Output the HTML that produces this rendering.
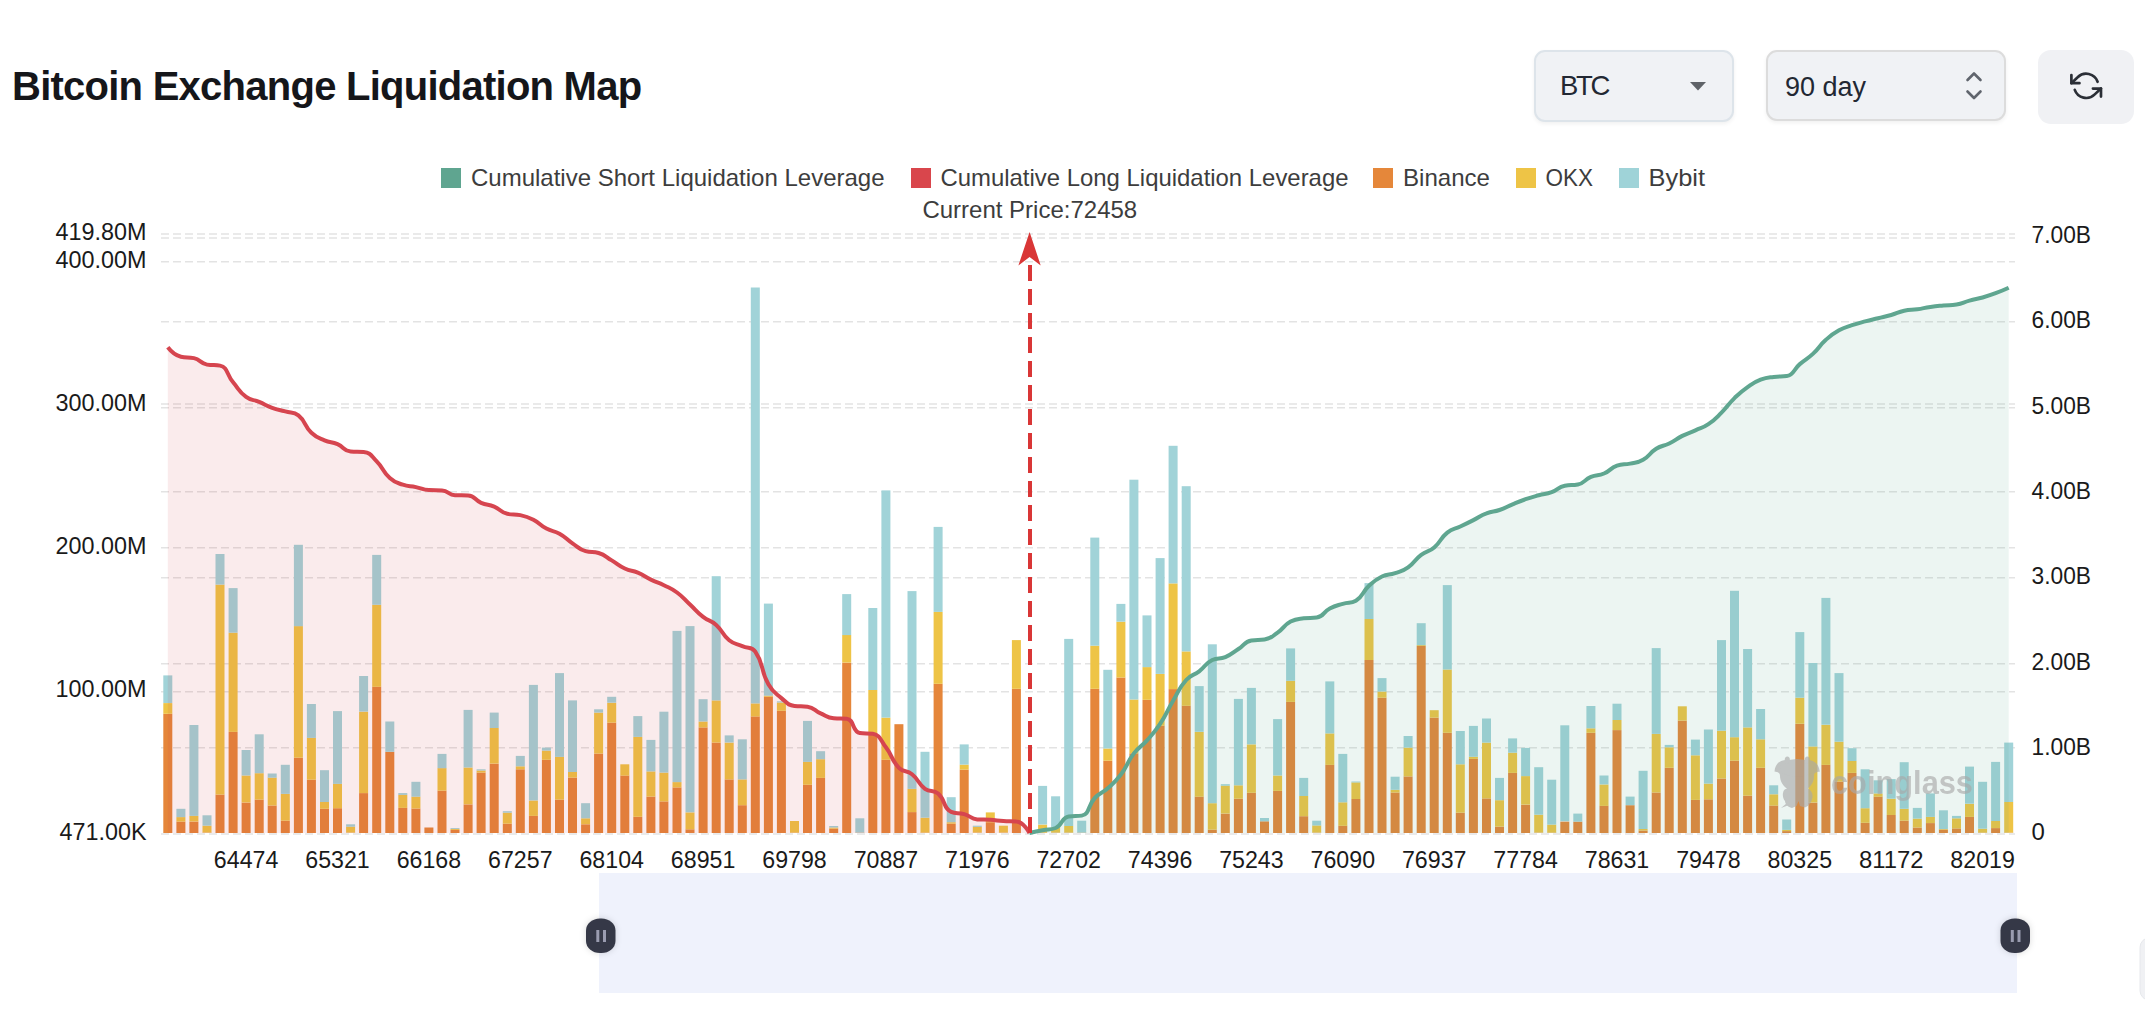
<!DOCTYPE html>
<html><head><meta charset="utf-8"><style>
html,body{margin:0;padding:0;background:#fff;}
body{width:2145px;height:1010px;overflow:hidden;position:relative;font-family:"Liberation Sans",sans-serif;}
.title{position:absolute;left:12px;top:57.7px;font-weight:bold;font-size:40px;line-height:56px;letter-spacing:-0.75px;color:#15161a;white-space:nowrap;}
.box{position:absolute;box-sizing:border-box;background:#f0f2f5;border-radius:11px;}
.sel1{left:1534px;top:50px;width:200px;height:72px;border:2px solid #dde4ea;box-shadow:0 2px 4px rgba(0,0,0,0.06);}
.sel2{left:1766px;top:50px;width:240px;height:71px;border:2px solid #dcdcdc;box-shadow:0 2px 4px rgba(0,0,0,0.06);}
.btn{left:2038px;top:50px;width:96px;height:74px;background:#f0f1f4;border-radius:13px;}
.lbl{position:absolute;font-size:27px;color:#222833;white-space:nowrap;line-height:30px;}
svg{position:absolute;left:0;top:0;}
</style></head><body>
<div class="title">Bitcoin Exchange Liquidation Map</div>
<div class="box sel1"></div>
<div class="lbl" style="left:1560px;top:71px;font-size:27.5px;letter-spacing:-2.3px;">BTC</div>
<div class="box sel2"></div>
<div class="lbl" style="left:1785px;top:72px;">90 day</div>
<div class="box btn"></div>
<svg width="2145" height="1010" viewBox="0 0 2145 1010">
<!-- controls icons -->
<path d="M1690 82 L1706 82 L1698 90.5 Z" fill="#5f6368"/>
<path d="M1967.5 80 L1974 73.5 L1980.5 80" fill="none" stroke="#60656d" stroke-width="2.6" stroke-linecap="round" stroke-linejoin="round"/>
<path d="M1967.5 91.5 L1974 98 L1980.5 91.5" fill="none" stroke="#60656d" stroke-width="2.6" stroke-linecap="round" stroke-linejoin="round"/>
<g fill="none" stroke="#2b2f36" stroke-width="2" stroke-linecap="round" stroke-linejoin="round" transform="translate(2070.05 69.7) scale(1.345)">
<polyline points="1 4 1 10 7 10"/>
<polyline points="23 20 23 14 17 14"/>
<path d="M20.49 9A9 9 0 0 0 5.64 5.64L1 10m22 4l-4.64 4.36A9 9 0 0 1 3.51 15"/>
</g>
<!-- legend -->
<g font-size="24" fill="#3d3d3d">
<rect x="441" y="168" width="20" height="20" fill="#5FA590"/>
<text x="471" y="185.5" textLength="413.5" lengthAdjust="spacingAndGlyphs">Cumulative Short Liquidation Leverage</text>
<rect x="911" y="168" width="20" height="20" fill="#D9464C"/>
<text x="940.5" y="185.5" textLength="408" lengthAdjust="spacingAndGlyphs">Cumulative Long Liquidation Leverage</text>
<rect x="1373" y="168" width="20" height="20" fill="#E5873A"/>
<text x="1403" y="185.5" textLength="87" lengthAdjust="spacingAndGlyphs">Binance</text>
<rect x="1516" y="168" width="20" height="20" fill="#EEC446"/>
<text x="1545.5" y="185.5" textLength="47.5" lengthAdjust="spacingAndGlyphs">OKX</text>
<rect x="1619" y="168" width="20" height="20" fill="#9FD3D8"/>
<text x="1648.5" y="185.5" textLength="56.5" lengthAdjust="spacingAndGlyphs">Bybit</text>
<text x="1029.8" y="218" text-anchor="middle">Current Price:72458</text>
</g>
<!-- grid -->
<g stroke="#e3e3e3" stroke-width="1.5" stroke-dasharray="8 4">
<line x1="161" y1="234" x2="2015" y2="234"/>
<line x1="161" y1="261.8" x2="2015" y2="261.8"/>
<line x1="161" y1="404.1" x2="2015" y2="404.1"/>
<line x1="161" y1="547.8" x2="2015" y2="547.8"/>
<line x1="161" y1="691.8" x2="2015" y2="691.8"/>
<line x1="161" y1="238.1" x2="2015" y2="238.1"/>
<line x1="161" y1="321.8" x2="2015" y2="321.8"/>
<line x1="161" y1="407.8" x2="2015" y2="407.8"/>
<line x1="161" y1="491.7" x2="2015" y2="491.7"/>
<line x1="161" y1="577.8" x2="2015" y2="577.8"/>
<line x1="161" y1="663.8" x2="2015" y2="663.8"/>
<line x1="161" y1="747.8" x2="2015" y2="747.8"/>
<line x1="161" y1="834" x2="2015" y2="834"/>
</g>
<!-- bars -->
<g>
<rect x="163.3" y="713.8" width="9" height="119.2" fill="#E5863A"/>
<rect x="163.3" y="703.1" width="9" height="10.7" fill="#EEC446"/>
<rect x="163.3" y="675.4" width="9" height="27.6" fill="#A1D3D8"/>
<rect x="176.4" y="821.6" width="9" height="11.4" fill="#E5863A"/>
<rect x="176.4" y="817.1" width="9" height="4.5" fill="#EEC446"/>
<rect x="176.4" y="808.8" width="9" height="8.3" fill="#A1D3D8"/>
<rect x="189.4" y="821.6" width="9" height="11.4" fill="#E5863A"/>
<rect x="189.4" y="815.9" width="9" height="5.6" fill="#EEC446"/>
<rect x="189.4" y="725" width="9" height="90.9" fill="#A1D3D8"/>
<rect x="202.5" y="832.6" width="9" height="0.4" fill="#E5863A"/>
<rect x="202.5" y="825.7" width="9" height="6.8" fill="#EEC446"/>
<rect x="202.5" y="815.3" width="9" height="10.4" fill="#A1D3D8"/>
<rect x="215.5" y="794.6" width="9" height="38.4" fill="#E5863A"/>
<rect x="215.5" y="584.6" width="9" height="210" fill="#EEC446"/>
<rect x="215.5" y="554" width="9" height="30.6" fill="#A1D3D8"/>
<rect x="228.6" y="731.9" width="9" height="101.1" fill="#E5863A"/>
<rect x="228.6" y="632.7" width="9" height="99.2" fill="#EEC446"/>
<rect x="228.6" y="588.1" width="9" height="44.6" fill="#A1D3D8"/>
<rect x="241.6" y="802.6" width="9" height="30.4" fill="#E5863A"/>
<rect x="241.6" y="775.5" width="9" height="27" fill="#EEC446"/>
<rect x="241.6" y="750" width="9" height="25.5" fill="#A1D3D8"/>
<rect x="254.7" y="799.6" width="9" height="33.4" fill="#E5863A"/>
<rect x="254.7" y="773.2" width="9" height="26.4" fill="#EEC446"/>
<rect x="254.7" y="734.3" width="9" height="38.9" fill="#A1D3D8"/>
<rect x="267.7" y="805.5" width="9" height="27.5" fill="#E5863A"/>
<rect x="267.7" y="777.6" width="9" height="27.9" fill="#EEC446"/>
<rect x="267.7" y="773.5" width="9" height="4.2" fill="#A1D3D8"/>
<rect x="280.8" y="820.7" width="9" height="12.3" fill="#E5863A"/>
<rect x="280.8" y="794" width="9" height="26.7" fill="#EEC446"/>
<rect x="280.8" y="764.8" width="9" height="29.1" fill="#A1D3D8"/>
<rect x="293.9" y="757.7" width="9" height="75.3" fill="#E5863A"/>
<rect x="293.9" y="626.1" width="9" height="131.6" fill="#EEC446"/>
<rect x="293.9" y="544.8" width="9" height="81.4" fill="#A1D3D8"/>
<rect x="306.9" y="779.7" width="9" height="53.3" fill="#E5863A"/>
<rect x="306.9" y="737.8" width="9" height="41.9" fill="#EEC446"/>
<rect x="306.9" y="704" width="9" height="33.9" fill="#A1D3D8"/>
<rect x="320" y="808.8" width="9" height="24.2" fill="#E5863A"/>
<rect x="320" y="802" width="9" height="6.8" fill="#EEC446"/>
<rect x="320" y="770.2" width="9" height="31.8" fill="#A1D3D8"/>
<rect x="333" y="808.2" width="9" height="24.8" fill="#E5863A"/>
<rect x="333" y="783.9" width="9" height="24.4" fill="#EEC446"/>
<rect x="333" y="711.1" width="9" height="72.8" fill="#A1D3D8"/>
<rect x="346.1" y="832.6" width="9" height="0.4" fill="#E5863A"/>
<rect x="346.1" y="826.6" width="9" height="5.9" fill="#EEC446"/>
<rect x="346.1" y="824.3" width="9" height="2.4" fill="#A1D3D8"/>
<rect x="359.1" y="793.1" width="9" height="39.9" fill="#E5863A"/>
<rect x="359.1" y="711.7" width="9" height="81.4" fill="#EEC446"/>
<rect x="359.1" y="676" width="9" height="35.6" fill="#A1D3D8"/>
<rect x="372.2" y="686.7" width="9" height="146.3" fill="#E5863A"/>
<rect x="372.2" y="604.8" width="9" height="82" fill="#EEC446"/>
<rect x="372.2" y="554.9" width="9" height="49.9" fill="#A1D3D8"/>
<rect x="385.3" y="751.8" width="9" height="81.2" fill="#E5863A"/>
<rect x="385.3" y="721.5" width="9" height="30.3" fill="#A1D3D8"/>
<rect x="398.3" y="807.9" width="9" height="25.1" fill="#E5863A"/>
<rect x="398.3" y="794.8" width="9" height="13.1" fill="#EEC446"/>
<rect x="398.3" y="793.1" width="9" height="1.8" fill="#A1D3D8"/>
<rect x="411.4" y="808.5" width="9" height="24.5" fill="#E5863A"/>
<rect x="411.4" y="796.6" width="9" height="11.9" fill="#EEC446"/>
<rect x="411.4" y="781.8" width="9" height="14.9" fill="#A1D3D8"/>
<rect x="424.4" y="827.5" width="9" height="5.5" fill="#E5863A"/>
<rect x="437.5" y="790.7" width="9" height="42.3" fill="#E5863A"/>
<rect x="437.5" y="768.1" width="9" height="22.6" fill="#EEC446"/>
<rect x="437.5" y="753.9" width="9" height="14.3" fill="#A1D3D8"/>
<rect x="450.5" y="829.9" width="9" height="3.1" fill="#E5863A"/>
<rect x="450.5" y="829" width="9" height="0.9" fill="#EEC446"/>
<rect x="450.5" y="828.1" width="9" height="0.9" fill="#A1D3D8"/>
<rect x="463.6" y="804.4" width="9" height="28.6" fill="#E5863A"/>
<rect x="463.6" y="767.5" width="9" height="36.8" fill="#EEC446"/>
<rect x="463.6" y="709.9" width="9" height="57.6" fill="#A1D3D8"/>
<rect x="476.6" y="772.6" width="9" height="60.4" fill="#E5863A"/>
<rect x="476.6" y="770.5" width="9" height="2.1" fill="#EEC446"/>
<rect x="476.6" y="769.3" width="9" height="1.2" fill="#A1D3D8"/>
<rect x="489.7" y="763.7" width="9" height="69.3" fill="#E5863A"/>
<rect x="489.7" y="728" width="9" height="35.6" fill="#EEC446"/>
<rect x="489.7" y="712.6" width="9" height="15.4" fill="#A1D3D8"/>
<rect x="502.8" y="823.7" width="9" height="9.3" fill="#E5863A"/>
<rect x="502.8" y="812.7" width="9" height="11" fill="#EEC446"/>
<rect x="502.8" y="811.2" width="9" height="1.5" fill="#A1D3D8"/>
<rect x="515.8" y="769.3" width="9" height="63.7" fill="#E5863A"/>
<rect x="515.8" y="766.3" width="9" height="3" fill="#EEC446"/>
<rect x="515.8" y="755.9" width="9" height="10.4" fill="#A1D3D8"/>
<rect x="528.9" y="815.9" width="9" height="17.1" fill="#E5863A"/>
<rect x="528.9" y="800.5" width="9" height="15.4" fill="#EEC446"/>
<rect x="528.9" y="684.9" width="9" height="115.5" fill="#A1D3D8"/>
<rect x="541.9" y="759.8" width="9" height="73.2" fill="#E5863A"/>
<rect x="541.9" y="750.6" width="9" height="9.2" fill="#EEC446"/>
<rect x="541.9" y="747.6" width="9" height="3" fill="#A1D3D8"/>
<rect x="555" y="799.6" width="9" height="33.4" fill="#E5863A"/>
<rect x="555" y="756.8" width="9" height="42.8" fill="#EEC446"/>
<rect x="555" y="673.1" width="9" height="83.8" fill="#A1D3D8"/>
<rect x="568" y="777.6" width="9" height="55.4" fill="#E5863A"/>
<rect x="568" y="772" width="9" height="5.6" fill="#EEC446"/>
<rect x="568" y="700.4" width="9" height="71.6" fill="#A1D3D8"/>
<rect x="581.1" y="824.3" width="9" height="8.7" fill="#E5863A"/>
<rect x="581.1" y="818.3" width="9" height="5.9" fill="#EEC446"/>
<rect x="581.1" y="803.2" width="9" height="15.1" fill="#A1D3D8"/>
<rect x="594.1" y="753.6" width="9" height="79.4" fill="#E5863A"/>
<rect x="594.1" y="712.6" width="9" height="41" fill="#EEC446"/>
<rect x="594.1" y="709.3" width="9" height="3.3" fill="#A1D3D8"/>
<rect x="607.2" y="722.7" width="9" height="110.3" fill="#E5863A"/>
<rect x="607.2" y="702.8" width="9" height="19.9" fill="#EEC446"/>
<rect x="607.2" y="696.8" width="9" height="5.9" fill="#A1D3D8"/>
<rect x="620.3" y="775.5" width="9" height="57.5" fill="#E5863A"/>
<rect x="620.3" y="764.3" width="9" height="11.3" fill="#EEC446"/>
<rect x="633.3" y="816.8" width="9" height="16.2" fill="#E5863A"/>
<rect x="633.3" y="736.9" width="9" height="79.9" fill="#EEC446"/>
<rect x="633.3" y="716.1" width="9" height="20.8" fill="#A1D3D8"/>
<rect x="646.4" y="796.6" width="9" height="36.4" fill="#E5863A"/>
<rect x="646.4" y="771.4" width="9" height="25.2" fill="#EEC446"/>
<rect x="646.4" y="739.9" width="9" height="31.5" fill="#A1D3D8"/>
<rect x="659.4" y="801.4" width="9" height="31.6" fill="#E5863A"/>
<rect x="659.4" y="772.6" width="9" height="28.8" fill="#EEC446"/>
<rect x="659.4" y="711.7" width="9" height="60.9" fill="#A1D3D8"/>
<rect x="672.5" y="787.4" width="9" height="45.6" fill="#E5863A"/>
<rect x="672.5" y="782.1" width="9" height="5.3" fill="#EEC446"/>
<rect x="672.5" y="630.9" width="9" height="151.2" fill="#A1D3D8"/>
<rect x="685.5" y="829.3" width="9" height="3.7" fill="#E5863A"/>
<rect x="685.5" y="812.4" width="9" height="16.9" fill="#EEC446"/>
<rect x="685.5" y="626.1" width="9" height="186.2" fill="#A1D3D8"/>
<rect x="698.6" y="727.4" width="9" height="105.6" fill="#E5863A"/>
<rect x="698.6" y="721.5" width="9" height="5.9" fill="#EEC446"/>
<rect x="698.6" y="699.2" width="9" height="22.3" fill="#A1D3D8"/>
<rect x="711.7" y="742.6" width="9" height="90.4" fill="#E5863A"/>
<rect x="711.7" y="700.4" width="9" height="42.2" fill="#EEC446"/>
<rect x="711.7" y="576.2" width="9" height="124.2" fill="#A1D3D8"/>
<rect x="724.7" y="779.4" width="9" height="53.6" fill="#E5863A"/>
<rect x="724.7" y="742.6" width="9" height="36.8" fill="#EEC446"/>
<rect x="724.7" y="735.4" width="9" height="7.1" fill="#A1D3D8"/>
<rect x="737.8" y="805.2" width="9" height="27.8" fill="#E5863A"/>
<rect x="737.8" y="779.4" width="9" height="25.8" fill="#EEC446"/>
<rect x="737.8" y="739.3" width="9" height="40.1" fill="#A1D3D8"/>
<rect x="750.8" y="716.4" width="9" height="116.6" fill="#E5863A"/>
<rect x="750.8" y="703.4" width="9" height="13.1" fill="#EEC446"/>
<rect x="750.8" y="287.5" width="9" height="415.9" fill="#A1D3D8"/>
<rect x="763.9" y="696.8" width="9" height="136.2" fill="#E5863A"/>
<rect x="763.9" y="695.6" width="9" height="1.2" fill="#EEC446"/>
<rect x="763.9" y="603.6" width="9" height="92.1" fill="#A1D3D8"/>
<rect x="776.9" y="710.8" width="9" height="122.2" fill="#E5863A"/>
<rect x="776.9" y="702.5" width="9" height="8.3" fill="#EEC446"/>
<rect x="776.9" y="701.3" width="9" height="1.2" fill="#A1D3D8"/>
<rect x="790" y="832.6" width="9" height="0.4" fill="#E5863A"/>
<rect x="790" y="821" width="9" height="11.6" fill="#EEC446"/>
<rect x="803" y="784.8" width="9" height="48.2" fill="#E5863A"/>
<rect x="803" y="761.9" width="9" height="22.9" fill="#EEC446"/>
<rect x="803" y="720.9" width="9" height="41" fill="#A1D3D8"/>
<rect x="816.1" y="777.9" width="9" height="55.1" fill="#E5863A"/>
<rect x="816.1" y="759.2" width="9" height="18.7" fill="#EEC446"/>
<rect x="816.1" y="751.2" width="9" height="8" fill="#A1D3D8"/>
<rect x="829.2" y="828.7" width="9" height="4.3" fill="#E5863A"/>
<rect x="829.2" y="827.5" width="9" height="1.2" fill="#EEC446"/>
<rect x="829.2" y="826" width="9" height="1.5" fill="#A1D3D8"/>
<rect x="842.2" y="662.7" width="9" height="170.3" fill="#E5863A"/>
<rect x="842.2" y="635" width="9" height="27.6" fill="#EEC446"/>
<rect x="842.2" y="594.1" width="9" height="41" fill="#A1D3D8"/>
<rect x="855.3" y="832.6" width="9" height="0.4" fill="#E5863A"/>
<rect x="855.3" y="818.3" width="9" height="14.3" fill="#A1D3D8"/>
<rect x="868.3" y="734.6" width="9" height="98.4" fill="#E5863A"/>
<rect x="868.3" y="690" width="9" height="44.6" fill="#EEC446"/>
<rect x="868.3" y="608" width="9" height="82" fill="#A1D3D8"/>
<rect x="881.4" y="759.8" width="9" height="73.2" fill="#E5863A"/>
<rect x="881.4" y="717.6" width="9" height="42.2" fill="#EEC446"/>
<rect x="881.4" y="490.4" width="9" height="227.2" fill="#A1D3D8"/>
<rect x="894.4" y="724.2" width="9" height="108.8" fill="#E5863A"/>
<rect x="907.5" y="812.1" width="9" height="20.9" fill="#E5863A"/>
<rect x="907.5" y="788.9" width="9" height="23.2" fill="#EEC446"/>
<rect x="907.5" y="591.1" width="9" height="197.8" fill="#A1D3D8"/>
<rect x="920.5" y="832.6" width="9" height="0.4" fill="#E5863A"/>
<rect x="920.5" y="817.7" width="9" height="14.9" fill="#EEC446"/>
<rect x="920.5" y="751.8" width="9" height="65.9" fill="#A1D3D8"/>
<rect x="933.6" y="683.8" width="9" height="149.2" fill="#E5863A"/>
<rect x="933.6" y="611.9" width="9" height="71.9" fill="#EEC446"/>
<rect x="933.6" y="526.9" width="9" height="85" fill="#A1D3D8"/>
<rect x="946.7" y="823.7" width="9" height="9.3" fill="#E5863A"/>
<rect x="946.7" y="822.2" width="9" height="1.5" fill="#EEC446"/>
<rect x="946.7" y="797.2" width="9" height="25" fill="#A1D3D8"/>
<rect x="959.7" y="769.6" width="9" height="63.4" fill="#E5863A"/>
<rect x="959.7" y="764.6" width="9" height="5" fill="#EEC446"/>
<rect x="959.7" y="744.4" width="9" height="20.2" fill="#A1D3D8"/>
<rect x="972.8" y="832.6" width="9" height="0.4" fill="#E5863A"/>
<rect x="972.8" y="826.9" width="9" height="5.6" fill="#EEC446"/>
<rect x="972.8" y="825.7" width="9" height="1.2" fill="#A1D3D8"/>
<rect x="985.8" y="822.2" width="9" height="10.8" fill="#E5863A"/>
<rect x="985.8" y="812.4" width="9" height="9.8" fill="#EEC446"/>
<rect x="998.9" y="832.6" width="9" height="0.4" fill="#E5863A"/>
<rect x="998.9" y="825.7" width="9" height="6.8" fill="#EEC446"/>
<rect x="1011.9" y="688.8" width="9" height="144.2" fill="#E5863A"/>
<rect x="1011.9" y="640.1" width="9" height="48.7" fill="#EEC446"/>
<rect x="1038.1" y="832.6" width="9" height="0.4" fill="#E5863A"/>
<rect x="1038.1" y="824.6" width="9" height="8" fill="#EEC446"/>
<rect x="1038.1" y="785.9" width="9" height="38.6" fill="#A1D3D8"/>
<rect x="1051.1" y="832.6" width="9" height="0.4" fill="#E5863A"/>
<rect x="1051.1" y="827.2" width="9" height="5.3" fill="#EEC446"/>
<rect x="1051.1" y="796.3" width="9" height="30.9" fill="#A1D3D8"/>
<rect x="1064.2" y="832.6" width="9" height="0.4" fill="#E5863A"/>
<rect x="1064.2" y="826" width="9" height="6.5" fill="#EEC446"/>
<rect x="1064.2" y="638.9" width="9" height="187.1" fill="#A1D3D8"/>
<rect x="1077.2" y="832.6" width="9" height="0.4" fill="#E5863A"/>
<rect x="1077.2" y="820.7" width="9" height="11.9" fill="#A1D3D8"/>
<rect x="1090.3" y="688.8" width="9" height="144.2" fill="#E5863A"/>
<rect x="1090.3" y="645.7" width="9" height="43.1" fill="#EEC446"/>
<rect x="1090.3" y="537.6" width="9" height="108.1" fill="#A1D3D8"/>
<rect x="1103.3" y="760.7" width="9" height="72.3" fill="#E5863A"/>
<rect x="1103.3" y="748.5" width="9" height="12.2" fill="#EEC446"/>
<rect x="1103.3" y="669.8" width="9" height="78.7" fill="#A1D3D8"/>
<rect x="1116.4" y="677.5" width="9" height="155.5" fill="#E5863A"/>
<rect x="1116.4" y="621.7" width="9" height="55.8" fill="#EEC446"/>
<rect x="1116.4" y="603.9" width="9" height="17.8" fill="#A1D3D8"/>
<rect x="1129.4" y="753.3" width="9" height="79.7" fill="#E5863A"/>
<rect x="1129.4" y="699.5" width="9" height="53.8" fill="#EEC446"/>
<rect x="1129.4" y="479.7" width="9" height="219.8" fill="#A1D3D8"/>
<rect x="1142.5" y="699.8" width="9" height="133.2" fill="#E5863A"/>
<rect x="1142.5" y="667.1" width="9" height="32.7" fill="#EEC446"/>
<rect x="1142.5" y="615.4" width="9" height="51.7" fill="#A1D3D8"/>
<rect x="1155.6" y="725.6" width="9" height="107.4" fill="#E5863A"/>
<rect x="1155.6" y="674" width="9" height="51.7" fill="#EEC446"/>
<rect x="1155.6" y="558.1" width="9" height="115.8" fill="#A1D3D8"/>
<rect x="1168.6" y="689.1" width="9" height="143.9" fill="#E5863A"/>
<rect x="1168.6" y="583.4" width="9" height="105.7" fill="#EEC446"/>
<rect x="1168.6" y="445.8" width="9" height="137.6" fill="#A1D3D8"/>
<rect x="1181.7" y="705.7" width="9" height="127.3" fill="#E5863A"/>
<rect x="1181.7" y="651.4" width="9" height="54.4" fill="#EEC446"/>
<rect x="1181.7" y="486.2" width="9" height="165.2" fill="#A1D3D8"/>
<rect x="1194.7" y="796.6" width="9" height="36.4" fill="#E5863A"/>
<rect x="1194.7" y="731.9" width="9" height="64.8" fill="#EEC446"/>
<rect x="1194.7" y="686.1" width="9" height="45.7" fill="#A1D3D8"/>
<rect x="1207.8" y="829.6" width="9" height="3.4" fill="#E5863A"/>
<rect x="1207.8" y="803.2" width="9" height="26.4" fill="#EEC446"/>
<rect x="1207.8" y="644.3" width="9" height="158.9" fill="#A1D3D8"/>
<rect x="1220.8" y="813.6" width="9" height="19.4" fill="#E5863A"/>
<rect x="1220.8" y="785.6" width="9" height="27.9" fill="#EEC446"/>
<rect x="1220.8" y="784.2" width="9" height="1.5" fill="#A1D3D8"/>
<rect x="1233.9" y="798.7" width="9" height="34.3" fill="#E5863A"/>
<rect x="1233.9" y="785.3" width="9" height="13.4" fill="#EEC446"/>
<rect x="1233.9" y="698.9" width="9" height="86.4" fill="#A1D3D8"/>
<rect x="1246.9" y="792.8" width="9" height="40.2" fill="#E5863A"/>
<rect x="1246.9" y="744.4" width="9" height="48.4" fill="#EEC446"/>
<rect x="1246.9" y="687.9" width="9" height="56.4" fill="#A1D3D8"/>
<rect x="1260" y="821.3" width="9" height="11.7" fill="#E5863A"/>
<rect x="1260" y="818" width="9" height="3.3" fill="#A1D3D8"/>
<rect x="1273.1" y="791" width="9" height="42" fill="#E5863A"/>
<rect x="1273.1" y="775.5" width="9" height="15.4" fill="#EEC446"/>
<rect x="1273.1" y="719.1" width="9" height="56.4" fill="#A1D3D8"/>
<rect x="1286.1" y="701.9" width="9" height="131.1" fill="#E5863A"/>
<rect x="1286.1" y="680.8" width="9" height="21.1" fill="#EEC446"/>
<rect x="1286.1" y="648.4" width="9" height="32.4" fill="#A1D3D8"/>
<rect x="1299.2" y="816.2" width="9" height="16.8" fill="#E5863A"/>
<rect x="1299.2" y="796" width="9" height="20.2" fill="#EEC446"/>
<rect x="1299.2" y="777.9" width="9" height="18.1" fill="#A1D3D8"/>
<rect x="1312.2" y="832.6" width="9" height="0.4" fill="#E5863A"/>
<rect x="1312.2" y="825.4" width="9" height="7.1" fill="#EEC446"/>
<rect x="1312.2" y="820.7" width="9" height="4.8" fill="#A1D3D8"/>
<rect x="1325.3" y="764.8" width="9" height="68.2" fill="#E5863A"/>
<rect x="1325.3" y="733.4" width="9" height="31.5" fill="#EEC446"/>
<rect x="1325.3" y="681.4" width="9" height="52" fill="#A1D3D8"/>
<rect x="1338.3" y="825.7" width="9" height="7.3" fill="#E5863A"/>
<rect x="1338.3" y="802.3" width="9" height="23.5" fill="#EEC446"/>
<rect x="1338.3" y="753.9" width="9" height="48.4" fill="#A1D3D8"/>
<rect x="1351.4" y="799" width="9" height="34" fill="#E5863A"/>
<rect x="1351.4" y="782.4" width="9" height="16.6" fill="#EEC446"/>
<rect x="1351.4" y="781.5" width="9" height="0.9" fill="#A1D3D8"/>
<rect x="1364.5" y="660" width="9" height="173" fill="#E5863A"/>
<rect x="1364.5" y="619" width="9" height="41" fill="#EEC446"/>
<rect x="1364.5" y="583.1" width="9" height="35.9" fill="#A1D3D8"/>
<rect x="1377.5" y="697.7" width="9" height="135.3" fill="#E5863A"/>
<rect x="1377.5" y="691.5" width="9" height="6.2" fill="#EEC446"/>
<rect x="1377.5" y="678.1" width="9" height="13.4" fill="#A1D3D8"/>
<rect x="1390.6" y="792.5" width="9" height="40.5" fill="#E5863A"/>
<rect x="1390.6" y="789.8" width="9" height="2.7" fill="#EEC446"/>
<rect x="1390.6" y="776.7" width="9" height="13.1" fill="#A1D3D8"/>
<rect x="1403.6" y="776.4" width="9" height="56.6" fill="#E5863A"/>
<rect x="1403.6" y="747.6" width="9" height="28.8" fill="#EEC446"/>
<rect x="1403.6" y="736" width="9" height="11.6" fill="#A1D3D8"/>
<rect x="1416.7" y="646" width="9" height="187" fill="#E5863A"/>
<rect x="1416.7" y="645.1" width="9" height="0.9" fill="#EEC446"/>
<rect x="1416.7" y="623.2" width="9" height="22" fill="#A1D3D8"/>
<rect x="1429.7" y="717.6" width="9" height="115.4" fill="#E5863A"/>
<rect x="1429.7" y="710.2" width="9" height="7.4" fill="#EEC446"/>
<rect x="1442.8" y="732.8" width="9" height="100.2" fill="#E5863A"/>
<rect x="1442.8" y="669.5" width="9" height="63.3" fill="#EEC446"/>
<rect x="1442.8" y="585.1" width="9" height="84.4" fill="#A1D3D8"/>
<rect x="1455.8" y="812.7" width="9" height="20.3" fill="#E5863A"/>
<rect x="1455.8" y="764.3" width="9" height="48.4" fill="#EEC446"/>
<rect x="1455.8" y="731" width="9" height="33.3" fill="#A1D3D8"/>
<rect x="1468.9" y="758.9" width="9" height="74.1" fill="#E5863A"/>
<rect x="1468.9" y="756.8" width="9" height="2.1" fill="#EEC446"/>
<rect x="1468.9" y="725.9" width="9" height="30.9" fill="#A1D3D8"/>
<rect x="1482" y="798.4" width="9" height="34.6" fill="#E5863A"/>
<rect x="1482" y="742.6" width="9" height="55.8" fill="#EEC446"/>
<rect x="1482" y="718.5" width="9" height="24.1" fill="#A1D3D8"/>
<rect x="1495" y="826.6" width="9" height="6.4" fill="#E5863A"/>
<rect x="1495" y="800.2" width="9" height="26.4" fill="#EEC446"/>
<rect x="1495" y="777.9" width="9" height="22.3" fill="#A1D3D8"/>
<rect x="1508.1" y="772.9" width="9" height="60.1" fill="#E5863A"/>
<rect x="1508.1" y="752.7" width="9" height="20.2" fill="#EEC446"/>
<rect x="1508.1" y="738.4" width="9" height="14.3" fill="#A1D3D8"/>
<rect x="1521.1" y="804.7" width="9" height="28.3" fill="#E5863A"/>
<rect x="1521.1" y="776.1" width="9" height="28.5" fill="#EEC446"/>
<rect x="1521.1" y="747.9" width="9" height="28.2" fill="#A1D3D8"/>
<rect x="1534.2" y="832.6" width="9" height="0.4" fill="#E5863A"/>
<rect x="1534.2" y="814.7" width="9" height="17.8" fill="#EEC446"/>
<rect x="1534.2" y="767.2" width="9" height="47.5" fill="#A1D3D8"/>
<rect x="1547.2" y="832.6" width="9" height="0.4" fill="#E5863A"/>
<rect x="1547.2" y="824.6" width="9" height="8" fill="#EEC446"/>
<rect x="1547.2" y="779.7" width="9" height="44.9" fill="#A1D3D8"/>
<rect x="1560.3" y="821.6" width="9" height="11.4" fill="#E5863A"/>
<rect x="1560.3" y="725.3" width="9" height="95.9" fill="#A1D3D8"/>
<rect x="1573.3" y="821.6" width="9" height="11.4" fill="#E5863A"/>
<rect x="1573.3" y="813.6" width="9" height="8" fill="#A1D3D8"/>
<rect x="1586.4" y="732.8" width="9" height="100.2" fill="#E5863A"/>
<rect x="1586.4" y="728.3" width="9" height="4.5" fill="#EEC446"/>
<rect x="1586.4" y="706" width="9" height="22.3" fill="#A1D3D8"/>
<rect x="1599.5" y="805.8" width="9" height="27.2" fill="#E5863A"/>
<rect x="1599.5" y="784.5" width="9" height="21.4" fill="#EEC446"/>
<rect x="1599.5" y="775.5" width="9" height="8.9" fill="#A1D3D8"/>
<rect x="1612.5" y="730.1" width="9" height="102.9" fill="#E5863A"/>
<rect x="1612.5" y="720" width="9" height="10.1" fill="#EEC446"/>
<rect x="1612.5" y="703.7" width="9" height="16.3" fill="#A1D3D8"/>
<rect x="1625.6" y="805.2" width="9" height="27.8" fill="#E5863A"/>
<rect x="1625.6" y="796.6" width="9" height="8.6" fill="#A1D3D8"/>
<rect x="1638.6" y="830.5" width="9" height="2.5" fill="#E5863A"/>
<rect x="1638.6" y="829" width="9" height="1.5" fill="#EEC446"/>
<rect x="1638.6" y="770.8" width="9" height="58.2" fill="#A1D3D8"/>
<rect x="1651.7" y="792.5" width="9" height="40.5" fill="#E5863A"/>
<rect x="1651.7" y="734" width="9" height="58.5" fill="#EEC446"/>
<rect x="1651.7" y="648.1" width="9" height="85.8" fill="#A1D3D8"/>
<rect x="1664.7" y="767.8" width="9" height="65.2" fill="#E5863A"/>
<rect x="1664.7" y="747.3" width="9" height="20.5" fill="#EEC446"/>
<rect x="1664.7" y="744.9" width="9" height="2.4" fill="#A1D3D8"/>
<rect x="1677.8" y="720.6" width="9" height="112.4" fill="#E5863A"/>
<rect x="1677.8" y="706.3" width="9" height="14.3" fill="#EEC446"/>
<rect x="1690.9" y="799.9" width="9" height="33.1" fill="#E5863A"/>
<rect x="1690.9" y="755.3" width="9" height="44.6" fill="#EEC446"/>
<rect x="1690.9" y="739.6" width="9" height="15.7" fill="#A1D3D8"/>
<rect x="1703.9" y="799.3" width="9" height="33.7" fill="#E5863A"/>
<rect x="1703.9" y="783.6" width="9" height="15.7" fill="#EEC446"/>
<rect x="1703.9" y="729.5" width="9" height="54.1" fill="#A1D3D8"/>
<rect x="1717" y="778.5" width="9" height="54.5" fill="#E5863A"/>
<rect x="1717" y="730.7" width="9" height="47.8" fill="#EEC446"/>
<rect x="1717" y="640.1" width="9" height="90.6" fill="#A1D3D8"/>
<rect x="1730" y="760.7" width="9" height="72.3" fill="#E5863A"/>
<rect x="1730" y="737.2" width="9" height="23.5" fill="#EEC446"/>
<rect x="1730" y="590.8" width="9" height="146.4" fill="#A1D3D8"/>
<rect x="1743.1" y="795.7" width="9" height="37.3" fill="#E5863A"/>
<rect x="1743.1" y="727.4" width="9" height="68.3" fill="#EEC446"/>
<rect x="1743.1" y="649" width="9" height="78.4" fill="#A1D3D8"/>
<rect x="1756.1" y="767.8" width="9" height="65.2" fill="#E5863A"/>
<rect x="1756.1" y="739.3" width="9" height="28.5" fill="#EEC446"/>
<rect x="1756.1" y="709" width="9" height="30.3" fill="#A1D3D8"/>
<rect x="1769.2" y="805.5" width="9" height="27.5" fill="#E5863A"/>
<rect x="1769.2" y="794.3" width="9" height="11.3" fill="#EEC446"/>
<rect x="1769.2" y="785.3" width="9" height="8.9" fill="#A1D3D8"/>
<rect x="1782.2" y="831.1" width="9" height="1.9" fill="#E5863A"/>
<rect x="1782.2" y="829.9" width="9" height="1.2" fill="#EEC446"/>
<rect x="1782.2" y="819.5" width="9" height="10.4" fill="#A1D3D8"/>
<rect x="1795.3" y="723.9" width="9" height="109.1" fill="#E5863A"/>
<rect x="1795.3" y="697.7" width="9" height="26.1" fill="#EEC446"/>
<rect x="1795.3" y="632.1" width="9" height="65.6" fill="#A1D3D8"/>
<rect x="1808.4" y="802.6" width="9" height="30.4" fill="#E5863A"/>
<rect x="1808.4" y="746.4" width="9" height="56.1" fill="#EEC446"/>
<rect x="1808.4" y="663" width="9" height="83.5" fill="#A1D3D8"/>
<rect x="1821.4" y="764.8" width="9" height="68.2" fill="#E5863A"/>
<rect x="1821.4" y="724.8" width="9" height="40.1" fill="#EEC446"/>
<rect x="1821.4" y="597.9" width="9" height="126.8" fill="#A1D3D8"/>
<rect x="1834.5" y="781.5" width="9" height="51.5" fill="#E5863A"/>
<rect x="1834.5" y="741.7" width="9" height="39.8" fill="#EEC446"/>
<rect x="1834.5" y="673.1" width="9" height="68.6" fill="#A1D3D8"/>
<rect x="1847.5" y="772.9" width="9" height="60.1" fill="#E5863A"/>
<rect x="1847.5" y="761" width="9" height="11.9" fill="#EEC446"/>
<rect x="1847.5" y="748.2" width="9" height="12.8" fill="#A1D3D8"/>
<rect x="1860.6" y="822.8" width="9" height="10.2" fill="#E5863A"/>
<rect x="1860.6" y="808.2" width="9" height="14.6" fill="#EEC446"/>
<rect x="1860.6" y="769.3" width="9" height="38.9" fill="#A1D3D8"/>
<rect x="1873.6" y="796.6" width="9" height="36.4" fill="#E5863A"/>
<rect x="1873.6" y="793.4" width="9" height="3.3" fill="#EEC446"/>
<rect x="1873.6" y="780.3" width="9" height="13.1" fill="#A1D3D8"/>
<rect x="1886.7" y="815" width="9" height="18" fill="#E5863A"/>
<rect x="1886.7" y="798.7" width="9" height="16.3" fill="#EEC446"/>
<rect x="1886.7" y="779.1" width="9" height="19.6" fill="#A1D3D8"/>
<rect x="1899.7" y="820.7" width="9" height="12.3" fill="#E5863A"/>
<rect x="1899.7" y="808.8" width="9" height="11.9" fill="#EEC446"/>
<rect x="1899.7" y="762.2" width="9" height="46.6" fill="#A1D3D8"/>
<rect x="1912.8" y="827.5" width="9" height="5.5" fill="#E5863A"/>
<rect x="1912.8" y="818.6" width="9" height="8.9" fill="#EEC446"/>
<rect x="1912.8" y="807.9" width="9" height="10.7" fill="#A1D3D8"/>
<rect x="1925.9" y="823.1" width="9" height="9.9" fill="#E5863A"/>
<rect x="1925.9" y="816.8" width="9" height="6.2" fill="#EEC446"/>
<rect x="1925.9" y="793.4" width="9" height="23.5" fill="#A1D3D8"/>
<rect x="1938.9" y="829.6" width="9" height="3.4" fill="#E5863A"/>
<rect x="1938.9" y="829" width="9" height="0.6" fill="#EEC446"/>
<rect x="1938.9" y="810.3" width="9" height="18.7" fill="#A1D3D8"/>
<rect x="1952" y="828.4" width="9" height="4.6" fill="#E5863A"/>
<rect x="1952" y="818.3" width="9" height="10.1" fill="#EEC446"/>
<rect x="1952" y="815.9" width="9" height="2.4" fill="#A1D3D8"/>
<rect x="1965" y="816.8" width="9" height="16.2" fill="#E5863A"/>
<rect x="1965" y="803.8" width="9" height="13.1" fill="#EEC446"/>
<rect x="1965" y="766.6" width="9" height="37.1" fill="#A1D3D8"/>
<rect x="1978.1" y="832.6" width="9" height="0.4" fill="#E5863A"/>
<rect x="1978.1" y="828.7" width="9" height="3.9" fill="#EEC446"/>
<rect x="1978.1" y="781.8" width="9" height="46.9" fill="#A1D3D8"/>
<rect x="1991.1" y="828.1" width="9" height="4.9" fill="#E5863A"/>
<rect x="1991.1" y="821" width="9" height="7.1" fill="#EEC446"/>
<rect x="1991.1" y="761.9" width="9" height="59.1" fill="#A1D3D8"/>
<rect x="2004.2" y="832.6" width="9" height="0.4" fill="#E5863A"/>
<rect x="2004.2" y="802" width="9" height="30.6" fill="#EEC446"/>
<rect x="2004.2" y="742.6" width="9" height="59.4" fill="#A1D3D8"/>
</g>
<!-- areas -->
<path d="M167.8 347.2C167.8 347.2 173.7 354.9 180.9 356.7C186.7 358.1 187.7 356.7 193.9 358.1C200.8 359.7 200.1 363.4 207 364.6C213.1 365.6 215 364.6 220 365.6C228.1 367.3 226.3 374.2 233.1 382.3C239.4 389.8 238.5 391.2 246.1 396.9C251.6 401 252.7 399.2 259.2 401.9C265.8 404.7 265.5 405.4 272.2 407.8C278.6 410.1 278.8 409.5 285.3 411.4C291.9 413.3 293.3 411.4 298.4 415.4C306.4 421.9 303.7 425.4 311.4 432.7C316.8 437.8 317.6 437.4 324.5 440.4C330.6 443.1 331.3 441.5 337.5 444.2C344.4 447.1 343.6 450.9 350.6 451.5C356.7 452 357.8 451.5 363.6 452C370.8 452.6 371.1 455.7 376.7 461.4C384.1 468.8 382 471.1 389.8 478C395.1 482.8 396 482.3 402.8 484.7C409 486.8 409.4 485.7 415.9 487.1C422.4 488.4 422.3 489.8 428.9 490.1C435.4 490.4 435.6 490.1 442 490.4C448.7 490.8 448.3 494.9 455 495.2C461.4 495.5 462 495.2 468.1 495.5C475.1 495.8 474.3 499.9 481.1 502.8C487.4 505.5 488 504 494.2 506.6C501 509.5 500.3 512.4 507.3 513.8C513.4 515.1 514 513.8 520.3 515.1C527 516.5 527.3 516.6 533.4 519.8C540.3 523.3 539.5 524.9 546.4 528.6C552.6 531.9 553.4 530.3 559.5 533.7C566.5 537.6 565.8 538.8 572.5 543.3C578.9 547.5 578.6 549.1 585.6 551.2C591.6 553 592.5 551.2 598.6 553C605.6 555 605.3 556.6 611.7 560.4C618.3 564.3 617.9 565.3 624.8 568.5C630.9 571.4 631.5 570 637.8 572.6C644.6 575.5 644.2 576.4 650.9 579.6C657.3 582.7 657.6 582.1 663.9 585.2C670.6 588.5 671 588 677 592.5C684.1 597.7 683.5 598.5 690 604.5C696.6 610.7 696 611.4 703.1 616.9C709.1 621.6 710.5 619.9 716.2 624.9C723.6 631.6 721.6 634.1 729.2 640.3C734.6 644.7 735.7 643.2 742.3 646.1C748.8 649 751.6 646.2 755.3 651.7C764.6 665.3 759.9 669.3 768.4 684.3C772.9 692.5 774.2 692.1 781.4 698.1C787.3 702.9 787.5 705.1 794.5 705.9C800.5 706.7 801.4 705.9 807.5 706.7C814.4 707.5 813.9 710.4 820.6 713.4C827 716.2 826.9 717.8 833.7 718.3C840 718.7 841.5 718.3 846.7 718.7C854.5 719.3 852 731.7 859.8 733C865 733.8 867.5 733 872.8 733.8C880.5 735.1 880.2 739.9 885.9 747.3C893.2 756.9 890.8 759.3 898.9 767.8C903.8 772.8 906.4 769.8 912 774.3C919.5 780.3 917.4 783.1 925 788.8C930.5 792.8 933.1 789.2 938.1 793.6C946.2 800.8 942.9 808.3 951.2 811.9C956 814.1 957.9 812.3 964.2 814.1C970.9 816 970.5 818.9 977.3 819.4C983.6 819.8 983.8 819.4 990.3 819.8C996.9 820.2 996.8 820.6 1003.4 821C1009.9 821.4 1010.8 821 1016.4 821.5C1023.9 822 1029.5 833 1029.5 833 L1029.5 833 L167.8 833 Z" fill="rgba(210,60,70,0.10)"/>
<path d="M1029.5 833C1029.5 833 1036 831.4 1042.6 830.2C1049.1 828.9 1050 830.2 1055.6 828C1063 825.1 1061.2 817.4 1068.7 816.4C1074.3 815.6 1076.8 816.4 1081.7 815.6C1089.9 814.4 1087.3 805.9 1094.8 798C1100.3 792.1 1101.8 793.7 1107.8 788.2C1114.8 781.9 1115.2 782.1 1120.9 774.5C1128.3 764.6 1126.4 763.2 1133.9 753.4C1139.5 746.1 1140.9 747.3 1147 740.4C1154 732.5 1154.3 732.7 1160.1 723.9C1167.4 712.9 1166.3 712.2 1173.1 700.8C1179.4 690.3 1178.2 689 1186.2 680C1191.3 674.3 1193 676 1199.2 671.3C1206.1 666 1204.9 663.7 1212.3 660C1218 657.1 1219.3 659.6 1225.3 657.1C1232.3 654.1 1231.9 653.2 1238.4 649C1245 644.8 1244.3 641.4 1251.4 640.4C1257.4 639.5 1258.4 640.4 1264.5 639.5C1271.4 638.5 1271.5 636.8 1277.6 632.6C1284.6 627.9 1283.3 625.6 1290.6 621.6C1296.4 618.5 1297 619.1 1303.7 618.3C1310.1 617.6 1310.8 618.3 1316.7 617.6C1323.9 616.7 1322.8 612.2 1329.8 608.5C1335.9 605.3 1336.2 605.8 1342.8 603.8C1349.3 601.9 1350.6 603.8 1355.9 600.7C1363.7 596.1 1361.7 592.5 1369 585.8C1374.8 580.3 1374.9 579.9 1382 576.5C1388 573.6 1388.7 575.3 1395.1 573.1C1401.8 570.8 1402.4 571.4 1408.1 567.3C1415.4 562.2 1414 560.2 1421.2 554.8C1427.1 550.3 1428.6 552.2 1434.2 547.4C1441.7 541.1 1439.7 538.7 1447.3 532.6C1452.8 528.2 1453.8 529.6 1460.3 526.5C1466.9 523.4 1466.9 523.4 1473.4 520.1C1480 516.8 1479.6 515.9 1486.5 513.3C1492.7 510.8 1493.2 512.1 1499.5 510C1506.2 507.7 1506 507 1512.6 504.3C1519 501.6 1519 501.5 1525.6 499.2C1532.1 497 1532.1 497.1 1538.7 495.3C1545.2 493.5 1545.5 494.4 1551.7 492.1C1558.5 489.6 1557.9 487 1564.8 485.7C1571 484.5 1571.8 485.7 1577.8 484.5C1584.8 483.2 1584 479.8 1590.9 476.9C1597.1 474.3 1597.8 476.1 1604 473.5C1610.9 470.5 1610 468.2 1617 465.7C1623.1 463.6 1623.6 465 1630.1 463.6C1636.7 462.1 1637.4 463.1 1643.1 459.8C1650.4 455.7 1649 453.3 1656.2 448.8C1662.1 445.1 1662.9 446.6 1669.2 443.5C1676 440.2 1675.6 439.3 1682.3 435.9C1688.6 432.7 1688.9 433.3 1695.4 430.4C1701.9 427.4 1702.5 428.2 1708.4 424.2C1715.5 419.3 1715.3 418.8 1721.5 412.6C1728.4 405.8 1727.6 404.9 1734.5 398.1C1740.6 392.2 1740.6 392 1747.6 387.1C1753.7 382.8 1753.7 382.4 1760.6 379.7C1766.8 377.3 1767.1 377.7 1773.7 376.9C1780.1 376.1 1781.2 376.9 1786.7 376.1C1794.3 375 1793 369.8 1799.8 364.1C1806.1 358.7 1806.8 359.5 1812.9 353.9C1819.9 347.4 1818.8 346.2 1825.9 339.8C1831.9 334.4 1832 334.2 1839 330.3C1845 326.9 1845.4 327.4 1852 325.2C1858.5 323 1858.5 323.1 1865.1 321.4C1871.6 319.6 1871.6 319.8 1878.1 318.2C1884.7 316.6 1884.7 316.8 1891.2 315C1897.8 313.1 1897.6 312.2 1904.2 310.8C1910.6 309.4 1910.8 310.2 1917.3 309.3C1923.9 308.3 1923.8 307.8 1930.4 306.9C1936.9 306 1936.9 306.1 1943.4 305.5C1949.9 304.9 1950.1 305.5 1956.5 304.5C1963.1 303.5 1962.9 302.3 1969.5 300.6C1976 298.8 1976.1 299.3 1982.6 297.5C1989.2 295.6 1989.2 295.6 1995.6 293.2C2002.3 290.8 2008.7 287.8 2008.7 287.8 L2008.7 833 L1029.5 833 Z" fill="rgba(82,164,137,0.11)"/>
<path d="M167.8 347.2C167.8 347.2 173.7 354.9 180.9 356.7C186.7 358.1 187.7 356.7 193.9 358.1C200.8 359.7 200.1 363.4 207 364.6C213.1 365.6 215 364.6 220 365.6C228.1 367.3 226.3 374.2 233.1 382.3C239.4 389.8 238.5 391.2 246.1 396.9C251.6 401 252.7 399.2 259.2 401.9C265.8 404.7 265.5 405.4 272.2 407.8C278.6 410.1 278.8 409.5 285.3 411.4C291.9 413.3 293.3 411.4 298.4 415.4C306.4 421.9 303.7 425.4 311.4 432.7C316.8 437.8 317.6 437.4 324.5 440.4C330.6 443.1 331.3 441.5 337.5 444.2C344.4 447.1 343.6 450.9 350.6 451.5C356.7 452 357.8 451.5 363.6 452C370.8 452.6 371.1 455.7 376.7 461.4C384.1 468.8 382 471.1 389.8 478C395.1 482.8 396 482.3 402.8 484.7C409 486.8 409.4 485.7 415.9 487.1C422.4 488.4 422.3 489.8 428.9 490.1C435.4 490.4 435.6 490.1 442 490.4C448.7 490.8 448.3 494.9 455 495.2C461.4 495.5 462 495.2 468.1 495.5C475.1 495.8 474.3 499.9 481.1 502.8C487.4 505.5 488 504 494.2 506.6C501 509.5 500.3 512.4 507.3 513.8C513.4 515.1 514 513.8 520.3 515.1C527 516.5 527.3 516.6 533.4 519.8C540.3 523.3 539.5 524.9 546.4 528.6C552.6 531.9 553.4 530.3 559.5 533.7C566.5 537.6 565.8 538.8 572.5 543.3C578.9 547.5 578.6 549.1 585.6 551.2C591.6 553 592.5 551.2 598.6 553C605.6 555 605.3 556.6 611.7 560.4C618.3 564.3 617.9 565.3 624.8 568.5C630.9 571.4 631.5 570 637.8 572.6C644.6 575.5 644.2 576.4 650.9 579.6C657.3 582.7 657.6 582.1 663.9 585.2C670.6 588.5 671 588 677 592.5C684.1 597.7 683.5 598.5 690 604.5C696.6 610.7 696 611.4 703.1 616.9C709.1 621.6 710.5 619.9 716.2 624.9C723.6 631.6 721.6 634.1 729.2 640.3C734.6 644.7 735.7 643.2 742.3 646.1C748.8 649 751.6 646.2 755.3 651.7C764.6 665.3 759.9 669.3 768.4 684.3C772.9 692.5 774.2 692.1 781.4 698.1C787.3 702.9 787.5 705.1 794.5 705.9C800.5 706.7 801.4 705.9 807.5 706.7C814.4 707.5 813.9 710.4 820.6 713.4C827 716.2 826.9 717.8 833.7 718.3C840 718.7 841.5 718.3 846.7 718.7C854.5 719.3 852 731.7 859.8 733C865 733.8 867.5 733 872.8 733.8C880.5 735.1 880.2 739.9 885.9 747.3C893.2 756.9 890.8 759.3 898.9 767.8C903.8 772.8 906.4 769.8 912 774.3C919.5 780.3 917.4 783.1 925 788.8C930.5 792.8 933.1 789.2 938.1 793.6C946.2 800.8 942.9 808.3 951.2 811.9C956 814.1 957.9 812.3 964.2 814.1C970.9 816 970.5 818.9 977.3 819.4C983.6 819.8 983.8 819.4 990.3 819.8C996.9 820.2 996.8 820.6 1003.4 821C1009.9 821.4 1010.8 821 1016.4 821.5C1023.9 822 1029.5 833 1029.5 833" fill="none" stroke="#D6454F" stroke-width="4" stroke-linejoin="round"/>
<path d="M1029.5 833C1029.5 833 1036 831.4 1042.6 830.2C1049.1 828.9 1050 830.2 1055.6 828C1063 825.1 1061.2 817.4 1068.7 816.4C1074.3 815.6 1076.8 816.4 1081.7 815.6C1089.9 814.4 1087.3 805.9 1094.8 798C1100.3 792.1 1101.8 793.7 1107.8 788.2C1114.8 781.9 1115.2 782.1 1120.9 774.5C1128.3 764.6 1126.4 763.2 1133.9 753.4C1139.5 746.1 1140.9 747.3 1147 740.4C1154 732.5 1154.3 732.7 1160.1 723.9C1167.4 712.9 1166.3 712.2 1173.1 700.8C1179.4 690.3 1178.2 689 1186.2 680C1191.3 674.3 1193 676 1199.2 671.3C1206.1 666 1204.9 663.7 1212.3 660C1218 657.1 1219.3 659.6 1225.3 657.1C1232.3 654.1 1231.9 653.2 1238.4 649C1245 644.8 1244.3 641.4 1251.4 640.4C1257.4 639.5 1258.4 640.4 1264.5 639.5C1271.4 638.5 1271.5 636.8 1277.6 632.6C1284.6 627.9 1283.3 625.6 1290.6 621.6C1296.4 618.5 1297 619.1 1303.7 618.3C1310.1 617.6 1310.8 618.3 1316.7 617.6C1323.9 616.7 1322.8 612.2 1329.8 608.5C1335.9 605.3 1336.2 605.8 1342.8 603.8C1349.3 601.9 1350.6 603.8 1355.9 600.7C1363.7 596.1 1361.7 592.5 1369 585.8C1374.8 580.3 1374.9 579.9 1382 576.5C1388 573.6 1388.7 575.3 1395.1 573.1C1401.8 570.8 1402.4 571.4 1408.1 567.3C1415.4 562.2 1414 560.2 1421.2 554.8C1427.1 550.3 1428.6 552.2 1434.2 547.4C1441.7 541.1 1439.7 538.7 1447.3 532.6C1452.8 528.2 1453.8 529.6 1460.3 526.5C1466.9 523.4 1466.9 523.4 1473.4 520.1C1480 516.8 1479.6 515.9 1486.5 513.3C1492.7 510.8 1493.2 512.1 1499.5 510C1506.2 507.7 1506 507 1512.6 504.3C1519 501.6 1519 501.5 1525.6 499.2C1532.1 497 1532.1 497.1 1538.7 495.3C1545.2 493.5 1545.5 494.4 1551.7 492.1C1558.5 489.6 1557.9 487 1564.8 485.7C1571 484.5 1571.8 485.7 1577.8 484.5C1584.8 483.2 1584 479.8 1590.9 476.9C1597.1 474.3 1597.8 476.1 1604 473.5C1610.9 470.5 1610 468.2 1617 465.7C1623.1 463.6 1623.6 465 1630.1 463.6C1636.7 462.1 1637.4 463.1 1643.1 459.8C1650.4 455.7 1649 453.3 1656.2 448.8C1662.1 445.1 1662.9 446.6 1669.2 443.5C1676 440.2 1675.6 439.3 1682.3 435.9C1688.6 432.7 1688.9 433.3 1695.4 430.4C1701.9 427.4 1702.5 428.2 1708.4 424.2C1715.5 419.3 1715.3 418.8 1721.5 412.6C1728.4 405.8 1727.6 404.9 1734.5 398.1C1740.6 392.2 1740.6 392 1747.6 387.1C1753.7 382.8 1753.7 382.4 1760.6 379.7C1766.8 377.3 1767.1 377.7 1773.7 376.9C1780.1 376.1 1781.2 376.9 1786.7 376.1C1794.3 375 1793 369.8 1799.8 364.1C1806.1 358.7 1806.8 359.5 1812.9 353.9C1819.9 347.4 1818.8 346.2 1825.9 339.8C1831.9 334.4 1832 334.2 1839 330.3C1845 326.9 1845.4 327.4 1852 325.2C1858.5 323 1858.5 323.1 1865.1 321.4C1871.6 319.6 1871.6 319.8 1878.1 318.2C1884.7 316.6 1884.7 316.8 1891.2 315C1897.8 313.1 1897.6 312.2 1904.2 310.8C1910.6 309.4 1910.8 310.2 1917.3 309.3C1923.9 308.3 1923.8 307.8 1930.4 306.9C1936.9 306 1936.9 306.1 1943.4 305.5C1949.9 304.9 1950.1 305.5 1956.5 304.5C1963.1 303.5 1962.9 302.3 1969.5 300.6C1976 298.8 1976.1 299.3 1982.6 297.5C1989.2 295.6 1989.2 295.6 1995.6 293.2C2002.3 290.8 2008.7 287.8 2008.7 287.8" fill="none" stroke="#5FA690" stroke-width="4" stroke-linejoin="round"/>
<!-- current price -->
<line x1="1030" y1="265" x2="1030" y2="833" stroke="#D93636" stroke-width="4" stroke-dasharray="16 8"/>
<path d="M1029.6 232 L1040.7 265.5 L1029.6 257 L1018.4 265.5 Z" fill="#D93636"/>
<!-- watermark -->
<g opacity="0.64" fill="#a9a9a9">
<path d="M1774.5 771.5 C1775 763 1781 760 1786 760 L1808 760 C1813 760 1819 763 1819.8 771.8 C1816 772 1814 773 1814 776 C1814 782 1811 786 1808 788.5 C1811 790 1813 793 1812.5 797 C1812 802 1809 806 1805 807.5 L1800 806 L1798.5 801 L1796.5 806 L1792 808 C1788 807 1785 804 1785 801 C1783 799 1782.5 795 1783 793 C1783.5 790 1785 789 1787 788.5 C1783 786 1780 781 1780 776 C1780 773 1778 772 1774.5 771.5 Z"/>
<ellipse cx="1797" cy="768" rx="17" ry="9"/>
<ellipse cx="1787.3" cy="760" rx="2.6" ry="3.5"/>
<ellipse cx="1807.3" cy="760" rx="2.6" ry="3.5"/>
<path d="M1781 808 L1787 803 L1789 805 Z"/>
<text x="1831" y="794" font-size="34" font-weight="bold" textLength="142" lengthAdjust="spacingAndGlyphs">coinglass</text>
</g>
<!-- axis labels -->
<g font-size="24" fill="#1a1a1a">
<text x="146.5" y="240" text-anchor="end" textLength="91" lengthAdjust="spacingAndGlyphs">419.80M</text>
<text x="146.5" y="268" text-anchor="end" textLength="91" lengthAdjust="spacingAndGlyphs">400.00M</text>
<text x="146.5" y="411" text-anchor="end" textLength="91" lengthAdjust="spacingAndGlyphs">300.00M</text>
<text x="146.5" y="554" text-anchor="end" textLength="91" lengthAdjust="spacingAndGlyphs">200.00M</text>
<text x="146.5" y="697" text-anchor="end" textLength="91" lengthAdjust="spacingAndGlyphs">100.00M</text>
<text x="146.5" y="840" text-anchor="end" textLength="87" lengthAdjust="spacingAndGlyphs">471.00K</text>
<text x="2031.5" y="243.1" textLength="59.5" lengthAdjust="spacingAndGlyphs">7.00B</text>
<text x="2031.5" y="328.4" textLength="59.5" lengthAdjust="spacingAndGlyphs">6.00B</text>
<text x="2031.5" y="413.8" textLength="59.5" lengthAdjust="spacingAndGlyphs">5.00B</text>
<text x="2031.5" y="499.1" textLength="59.5" lengthAdjust="spacingAndGlyphs">4.00B</text>
<text x="2031.5" y="584.4" textLength="59.5" lengthAdjust="spacingAndGlyphs">3.00B</text>
<text x="2031.5" y="669.7" textLength="59.5" lengthAdjust="spacingAndGlyphs">2.00B</text>
<text x="2031.5" y="755.1" textLength="59.5" lengthAdjust="spacingAndGlyphs">1.00B</text>
<text x="2031.5" y="840.4">0</text>
<text x="246.1" y="868" text-anchor="middle" textLength="64.5" lengthAdjust="spacingAndGlyphs">64474</text>
<text x="337.5" y="868" text-anchor="middle" textLength="64.5" lengthAdjust="spacingAndGlyphs">65321</text>
<text x="428.9" y="868" text-anchor="middle" textLength="64.5" lengthAdjust="spacingAndGlyphs">66168</text>
<text x="520.3" y="868" text-anchor="middle" textLength="64.5" lengthAdjust="spacingAndGlyphs">67257</text>
<text x="611.7" y="868" text-anchor="middle" textLength="64.5" lengthAdjust="spacingAndGlyphs">68104</text>
<text x="703.1" y="868" text-anchor="middle" textLength="64.5" lengthAdjust="spacingAndGlyphs">68951</text>
<text x="794.5" y="868" text-anchor="middle" textLength="64.5" lengthAdjust="spacingAndGlyphs">69798</text>
<text x="885.9" y="868" text-anchor="middle" textLength="64.5" lengthAdjust="spacingAndGlyphs">70887</text>
<text x="977.3" y="868" text-anchor="middle" textLength="64.5" lengthAdjust="spacingAndGlyphs">71976</text>
<text x="1068.7" y="868" text-anchor="middle" textLength="64.5" lengthAdjust="spacingAndGlyphs">72702</text>
<text x="1160.1" y="868" text-anchor="middle" textLength="64.5" lengthAdjust="spacingAndGlyphs">74396</text>
<text x="1251.4" y="868" text-anchor="middle" textLength="64.5" lengthAdjust="spacingAndGlyphs">75243</text>
<text x="1342.8" y="868" text-anchor="middle" textLength="64.5" lengthAdjust="spacingAndGlyphs">76090</text>
<text x="1434.2" y="868" text-anchor="middle" textLength="64.5" lengthAdjust="spacingAndGlyphs">76937</text>
<text x="1525.6" y="868" text-anchor="middle" textLength="64.5" lengthAdjust="spacingAndGlyphs">77784</text>
<text x="1617" y="868" text-anchor="middle" textLength="64.5" lengthAdjust="spacingAndGlyphs">78631</text>
<text x="1708.4" y="868" text-anchor="middle" textLength="64.5" lengthAdjust="spacingAndGlyphs">79478</text>
<text x="1799.8" y="868" text-anchor="middle" textLength="64.5" lengthAdjust="spacingAndGlyphs">80325</text>
<text x="1891.2" y="868" text-anchor="middle" textLength="64.5" lengthAdjust="spacingAndGlyphs">81172</text>
<text x="1982.6" y="868" text-anchor="middle" textLength="64.5" lengthAdjust="spacingAndGlyphs">82019</text>
</g>
<!-- slider -->
<rect x="599" y="873" width="1418" height="120" fill="#eff2fc"/>
<g>
<rect x="586" y="918.5" width="29.5" height="34.5" rx="14" ry="12" fill="#353847" style="filter:drop-shadow(0 0 3px rgba(0,0,0,0.15))"/>
<rect x="596.3" y="930" width="3" height="12" fill="#9a9cb0"/>
<rect x="603" y="930" width="3" height="12" fill="#9a9cb0"/>
<rect x="2000.5" y="918.5" width="29.5" height="34.5" rx="14" ry="12" fill="#353847" style="filter:drop-shadow(0 0 3px rgba(0,0,0,0.15))"/>
<rect x="2010.8" y="930" width="3" height="12" fill="#9a9cb0"/>
<rect x="2017.5" y="930" width="3" height="12" fill="#9a9cb0"/>
</g>
<rect x="2140" y="937.5" width="30" height="63" rx="10" fill="#f0f1f4" stroke="#e6e8ec" stroke-width="1"/>
</svg>
</body></html>
